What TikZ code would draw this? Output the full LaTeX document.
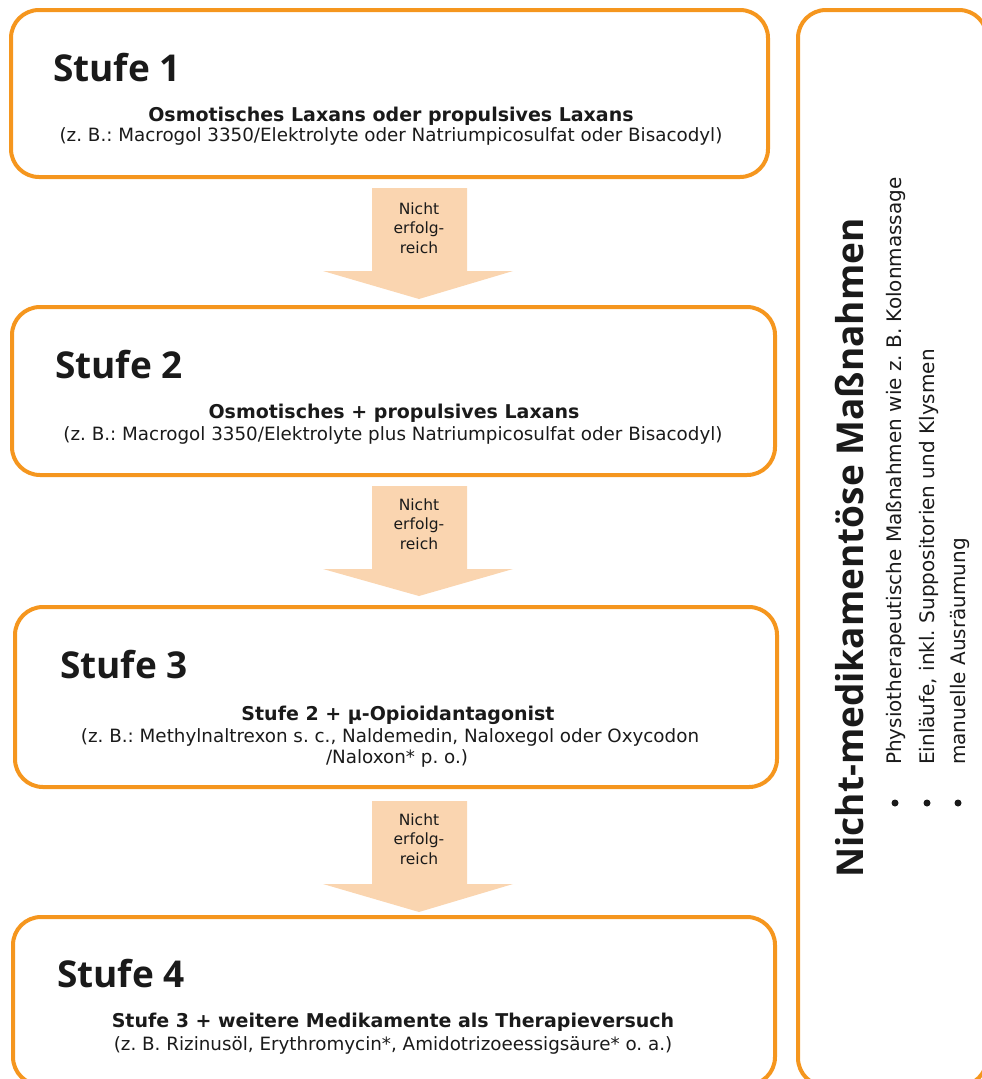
\documentclass[tikz,border=0pt]{standalone}
\usepackage{fontspec}
\setmainfont{Open Sans}
\newfontfamily\dvsans{DejaVu Sans}
\usetikzlibrary{calc}
\frenchspacing

\definecolor{frame}{HTML}{F5961E}
\definecolor{peach}{HTML}{FAD5B0}
\definecolor{ink}{HTML}{1A1A1A}

\tikzset{
  stepbox/.style={draw=frame, line width=4pt, rounded corners=28pt, inner sep=0pt, outer sep=0pt},
  stufe/.style={anchor=base west, inner sep=0pt, text=ink, font=\fontsize{37}{40}\selectfont\bfseries},
  drug/.style={anchor=base, inner sep=0pt, text=ink, font=\dvsans\fontsize{19}{22}\selectfont\bfseries},
  example/.style={anchor=base, inner sep=0pt, text=ink, font=\dvsans\fontsize{18.3}{21}\selectfont},
  flowarrow/.style={fill=peach},
  arrowtext/.style={align=center, inner sep=0pt, text=ink, font=\dvsans\fontsize{15.5}{19.5}\selectfont},
  sidetitle/.style={rotate=90, anchor=base, inner sep=0pt, text=ink, font=\fontsize{37}{40}\selectfont\bfseries},
  sideitem/.style={rotate=90, anchor=base west, inner sep=0pt, text=ink, font=\dvsans\fontsize{20}{24}\selectfont},
  bulletmark/.style={circle, fill=ink, inner sep=0pt, minimum size=7pt},
}

% block arrow between two step boxes:
% #1 from, #2 to, #3 gap below #1, #4 head base above #2, #5 tip gap above #2
\newcommand{\failarrow}[5]{%
  \fill[flowarrow] let \p1=(#1.south), \p2=(#2.north) in
    (372pt,\y1-#3pt) -- (467pt,\y1-#3pt) -- (467pt,\y2+#4pt) -- (513pt,\y2+#4pt)
    -- (419pt,\y2+#5pt) -- (323pt,\y2+#4pt) -- (372pt,\y2+#4pt) -- cycle;
}

\begin{document}
\begin{tikzpicture}[x=1pt,y=-1pt]
\useasboundingbox (0,0) rectangle (982,1079);
\clip (0,0) rectangle (982,1079);

% step boxes and side panel
\node[stepbox, minimum width=757pt, minimum height=167pt] (s1) at (389.5,93.5) {};
\node[stepbox, minimum width=763pt, minimum height=168pt] (s2) at (393.5,391) {};
\node[stepbox, minimum width=762pt, minimum height=180pt] (s3) at (396,697) {};
\node[stepbox, minimum width=762pt, minimum height=168pt] (s4) at (394,1001) {};
\node[stepbox, minimum width=189pt, minimum height=1076pt] (side) at (892.5,548) {};

% arrows between the steps
\failarrow{s1}{s2}{11}{36}{8}
\failarrow{s2}{s3}{11}{38}{11}
\failarrow{s3}{s4}{14}{33}{5}
\node[arrowtext] (f1) at (419,228) {Nicht\\erfolg-\\reich};
\node[arrowtext] (f2) at (419,524) {Nicht\\erfolg-\\reich};
\node[arrowtext] (f3) at (419,839) {Nicht\\erfolg-\\reich};

% step 1
\node[stufe] (t1) at (53,81) {Stufe 1};
\node[drug] (d1) at (391,121) {Osmotisches Laxans oder propulsives Laxans};
\node[example] (e1) at (391,141) {(z. B.: Macrogol 3350/Elektrolyte oder Natriumpicosulfat oder Bisacodyl)};

% step 2
\node[stufe] (t2) at (55,378) {Stufe 2};
\node[drug] (d2) at (394,418) {Osmotisches + propulsives Laxans};
\node[example] (e2) at (393,440) {(z. B.: Macrogol 3350/Elektrolyte plus Natriumpicosulfat oder Bisacodyl)};

% step 3
\node[stufe] (t3) at (60,678) {Stufe 3};
\node[drug] (d3) at (398,720) {Stufe 2 + µ-Opioidantagonist};
\node[example] (e3a) at (390,742) {(z. B.: Methylnaltrexon s. c., Naldemedin, Naloxegol oder Oxycodon};
\node[example] (e3b) at (397,763) {/Naloxon* p. o.)};

% step 4
\node[stufe] (t4) at (57,987) {Stufe 4};
\node[drug] (d4) at (393,1027) {Stufe 3 + weitere Medikamente als Therapieversuch};
\node[example] (e4) at (393,1050) {(z. B. Rizinusöl, Erythromycin*, Amidotrizoeessigsäure* o. a.)};

% non-drug measures
\node[sidetitle] (st) at (863,548) {Nicht-medikamentöse Maßnahmen};
\node[bulletmark] (b1) at (895,803) {};
\node[bulletmark] (b2) at (927,803) {};
\node[bulletmark] (b3) at (958,803) {};
\node[sideitem] (i1) at (901,765) {Physiotherapeutische Maßnahmen wie z. B. Kolonmassage};
\node[sideitem] (i2) at (934,765) {Einläufe, inkl. Suppositorien und Klysmen};
\node[sideitem] (i3) at (965,765) {manuelle Ausräumung};
\end{tikzpicture}
\end{document}
